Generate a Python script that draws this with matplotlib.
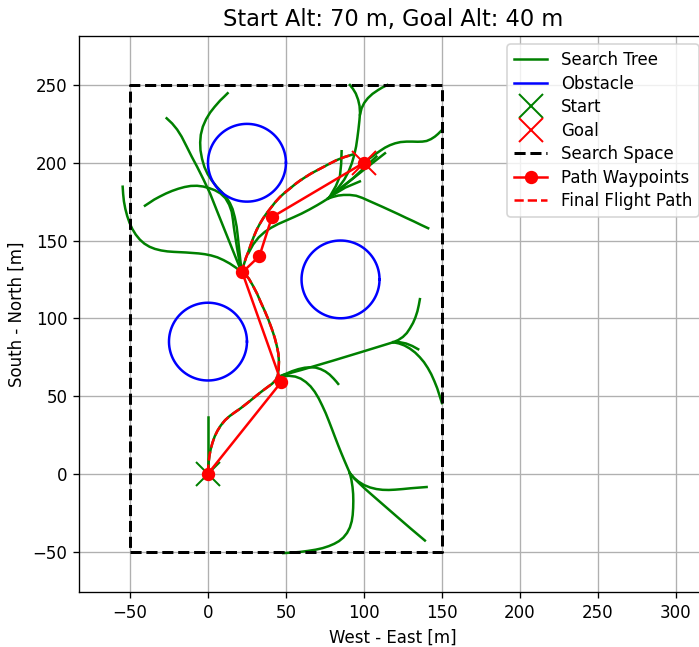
import numpy as np
import matplotlib
matplotlib.use("Agg")
import matplotlib.pyplot as plt

# search space and obstacles
space_x = [-50, 150, 150, -50, -50]
space_y = [-50, -50, 250, 250, -50]
obstacle_cx = [25, 85, 0]
obstacle_cy = [200, 125, 85]
obstacle_r = [25, 25, 25]

start = (0, 0)
goal = (100, 200)

# waypoints of the found path
wp_x = [0, 47, 22, 33, 41, 100]
wp_y = [0, 59, 129.5, 140, 165, 200]

# smoothed flight path (the tree edges under it are the same curve)
final_x = [0, 0.15, 0.5, 1, 1.8, 2.9, 4.3, 6.1, 8.3, 11, 14, 17.3, 20.5, 24, 27.5, 31, 34.5,
           38, 41, 43.3, 44.7, 45.3, 45.5, 45.2, 44.2, 42.8, 41, 38.8, 36.5, 34, 31.4, 28.8,
           26.2, 23.8, 21.6, 23, 24.4, 25.8, 27.5, 29.3, 31.2, 33.3, 35.4, 37.6, 40.3, 43.2,
           46.2, 49.5, 53, 56, 59, 62.5, 66, 69.7, 73.5, 77.8, 82.3, 87, 92.5]
final_y = [0, 4, 8, 12, 16, 20, 24, 27.7, 31.2, 34.5, 37.2, 39.6, 41.8, 44.5, 47.3, 50.2, 53,
           55.6, 57.8, 60, 63, 67, 72, 77, 82, 87.5, 93, 99, 104.5, 110, 116, 121, 125.5,
           128.3, 129.6, 134.5, 139, 142.5, 147.5, 152.3, 156.8, 160.8, 164.3, 167.5, 171,
           174.7, 178, 181, 183.8, 186.3, 188.5, 190.8, 193, 195, 197, 199.3, 201.6, 203.5, 205.2]

# tree branches
br_start_up = [(0, 0), (0, 36.5)]
br_east_long = [(44.5, 62), (48, 63.5), (60, 66.8), (80, 72.7), (100, 78.8), (118.8, 84.6)]
br_east_up = [(118.8, 84.6), (122, 86), (125, 88), (127.5, 90.5), (129.5, 93.5), (131.5, 97),
              (133, 100.5), (134.3, 104.5), (135.2, 108.5), (135.9, 112.3)]
br_east_short = [(118.8, 84.6), (123, 84.6), (127, 83.8), (131, 82.2), (134.8, 80.1)]
br_east_down = [(118.8, 84.6), (122.5, 83.8), (126, 82.5), (129.5, 80.5), (132.8, 78),
                (135.8, 75), (138.5, 71.8), (141, 68), (143.2, 64), (145.2, 59.5), (147, 55),
                (148.6, 50), (150, 45.5)]
br_hook = [(46, 62.5), (50, 64.3), (54, 66), (58, 67.3), (62, 68.2), (65.5, 68.5), (69, 68.3),
           (72.3, 67.3), (75.3, 65.8), (78, 63.8), (80.5, 61.3), (82.3, 59.3), (83.5, 57.8)]
br_south = [(44.5, 62), (48, 62.8), (52, 63), (56, 62.5), (59.5, 61.2), (62.8, 59), (65.8, 56.2),
            (68.5, 52.7), (71, 48.5), (73.3, 43.8), (75.5, 39), (77.5, 34), (79.5, 28.8),
            (81.5, 23.5), (83.5, 18.3), (85.5, 13.3), (87.5, 8.5), (89.3, 4.3), (91, 0.4)]
br_s1 = [(91, 0.4), (93.5, -2.5), (96.5, -5), (100, -7.2), (104, -8.8), (108, -9.8),
         (112, -10.3), (116, -10.4), (120, -10.2), (125, -9.8), (130, -9.3), (135, -8.9),
         (140.2, -8.5)]
br_s2 = [(91, 0.4), (94, -3.2), (97.5, -6.6), (101, -9.9), (104.5, -13), (110, -17.8),
         (121, -27.4), (130, -35.2), (139.1, -42.9)]
br_s3 = [(91, 0.4), (92, -4), (92.7, -8.5), (93.1, -13), (93.2, -17.5), (93.1, -22),
         (92.8, -26.5), (92.2, -30.5), (91, -34.5), (89.2, -38), (86.8, -41), (84, -43.3),
         (81, -45), (77.5, -46.5), (73.5, -47.8), (69, -48.8), (64, -49.6), (58.5, -50.3),
         (53, -50.7), (48.3, -51)]
br_west = [(21.6, 129.6), (18, 132.5), (14, 135.2), (10, 137.4), (6, 139.2), (2, 140.4),
           (-2, 141.2), (-6, 141.7), (-10, 142), (-14, 142.3), (-18, 142.5), (-22, 142.7),
           (-26, 143), (-30, 143.6), (-34, 144.6), (-37.5, 146), (-40.8, 148), (-43.7, 150.6),
           (-46.3, 153.8), (-48.5, 157.4), (-50.3, 161.4), (-51.8, 165.8), (-53, 170.4),
           (-53.9, 175.2), (-54.4, 180), (-54.7, 184.6)]
br_nw_a = [(21.6, 129.6), (16, 143.5), (11, 156), (6, 168.5), (1.3, 180.4), (-3, 189.5),
           (-7, 197.5), (-10.4, 203.9), (-13.7, 210.5), (-16.9, 216.8), (-19.8, 221.4),
           (-23, 225.3), (-26.5, 228.6)]
br_nw_b = [(21.6, 129.6), (20.8, 137), (20, 144.5), (19.2, 152), (18.4, 158.9), (17.2, 165),
           (15.8, 170.2), (14.1, 174), (11.8, 177.8), (8.8, 181.2), (5.6, 184.6), (2.5, 188.5),
           (-0.2, 192.7), (-2.3, 197.3), (-3.8, 202.5), (-4.8, 208), (-5, 213), (-4.6, 218),
           (-3.3, 223.2), (-1.2, 228), (1.4, 232.3), (4.3, 236), (7.8, 240), (10.3, 242.4),
           (12.6, 244.7)]
br_nw_c = [(21.6, 129.6), (20, 137.5), (18.6, 145.5), (17.5, 152.5), (16.6, 158.5), (16, 163.5),
           (15.2, 168.5), (13.6, 173), (11.2, 177.2), (8, 180.3), (4.5, 182.3), (1, 183.6),
           (-3, 184.7), (-7, 185.2), (-11, 185.1), (-15, 184.4), (-19, 183.3), (-23, 181.9),
           (-27, 180.2), (-31, 178.2), (-34.5, 176.3), (-37.5, 174.3), (-40.4, 172.4)]
br_ne = [(26, 142), (29, 147.5), (32.5, 152), (36.5, 155.6), (40.5, 158.2), (45, 160.6),
         (50, 162.8), (55, 165), (60, 167.3), (65, 169.9), (70, 172.7), (73.5, 174.8), (77, 177)]
br_n3_up = [(77, 177), (80.5, 180.5), (84, 184.5), (87.3, 189), (90, 194), (92.2, 199.5),
            (93.8, 205), (95, 210.5), (95.8, 216), (96.5, 221.5), (97.1, 227), (97.5, 232),
            (97.2, 236.5), (96.3, 240.5), (94.8, 244.5), (93, 247.5), (91, 250)]
br_n3_up2 = [(97.5, 231), (98.5, 235), (100.2, 238.5), (102.5, 241.5), (105.5, 244.3),
             (109, 246.7), (112, 248.5), (115, 250)]
br_n3_east = [(77, 177), (80, 178), (83.5, 178.9), (87, 179.3), (91, 179.3), (95, 178.8),
              (99, 177.4), (103, 175.6), (107.5, 173.6), (112, 171.6), (117, 169.3), (122, 167),
              (127, 164.6), (132, 162.3), (136.5, 160.1), (141.2, 157.9)]
br_goal_east = [(100, 200), (103.8, 202.9), (107, 205.3), (110.3, 207.6), (113.5, 209.7),
                (116.7, 211.3), (120, 212.5), (123.5, 213.3), (127.4, 213.6), (131, 213.6),
                (134.5, 213.5), (137.5, 213.6), (140.2, 214), (143, 215.2), (145.5, 216.8),
                (147.5, 218.5), (149.5, 220.5)]
br_goal1 = [(77, 177), (90, 187.5), (100, 195.5), (113.5, 206.1)]
br_goal2 = [(78, 178), (93, 190), (108, 204)]
br_goal3 = [(78, 178), (88, 184), (97.4, 188)]
br_vert = [(85.7, 207.4), (85.4, 199), (84.6, 191.3), (82, 185), (78, 178)]

tree = [br_start_up, br_east_long, br_east_up, br_east_short, br_east_down, br_hook,
        br_south, br_s1, br_s2, br_s3, br_west, br_nw_a, br_nw_b, br_nw_c, br_ne,
        br_n3_up, br_n3_up2, br_n3_east, br_goal_east, br_goal1, br_goal2, br_goal3, br_vert]

fig = plt.figure(figsize=(699 / 120, 647 / 120), dpi=120)
ax = fig.add_axes([79 / 699, 55 / 647, 628 / 699, 556 / 647])

for br in tree:
    b = np.array(br)
    ax.plot(b[:, 0], b[:, 1], color='g', lw=1.5)
ax.plot(final_x, final_y, color='g', lw=1.5, label='Search Tree')

t = np.linspace(0, 2 * np.pi, 200)
for i in range(len(obstacle_r)):
    ax.plot(obstacle_cx[i] + obstacle_r[i] * np.cos(t), obstacle_cy[i] + obstacle_r[i] * np.sin(t),
            color='b', lw=1.5, label='Obstacle' if i == 0 else None)

ax.plot(*start, 'gx', markersize=14, markeredgewidth=1.2, label='Start')
ax.plot(*goal, 'rx', markersize=14, markeredgewidth=1.2, label='Goal')
ax.plot(space_x, space_y, 'k--', lw=1.8, label='Search Space')
ax.plot(wp_x, wp_y, 'r-', marker='o', markersize=7, lw=1.5, label='Path Waypoints')
ax.plot(final_x, final_y, 'r--', lw=1.5, label='Final Flight Path')

ax.set_xlim(-82.7, 320)
ax.set_ylim(-76, 281.5)
ax.grid(True)
ax.set_axisbelow(True)
ax.set_xlabel('West - East [m]')
ax.set_ylabel('South - North [m]')
ax.set_title('Start Alt: 70 m, Goal Alt: 40 m', fontsize=13.5)
ax.legend(loc='upper right', labelspacing=0.33)

fig.savefig('out.png', dpi=120)
